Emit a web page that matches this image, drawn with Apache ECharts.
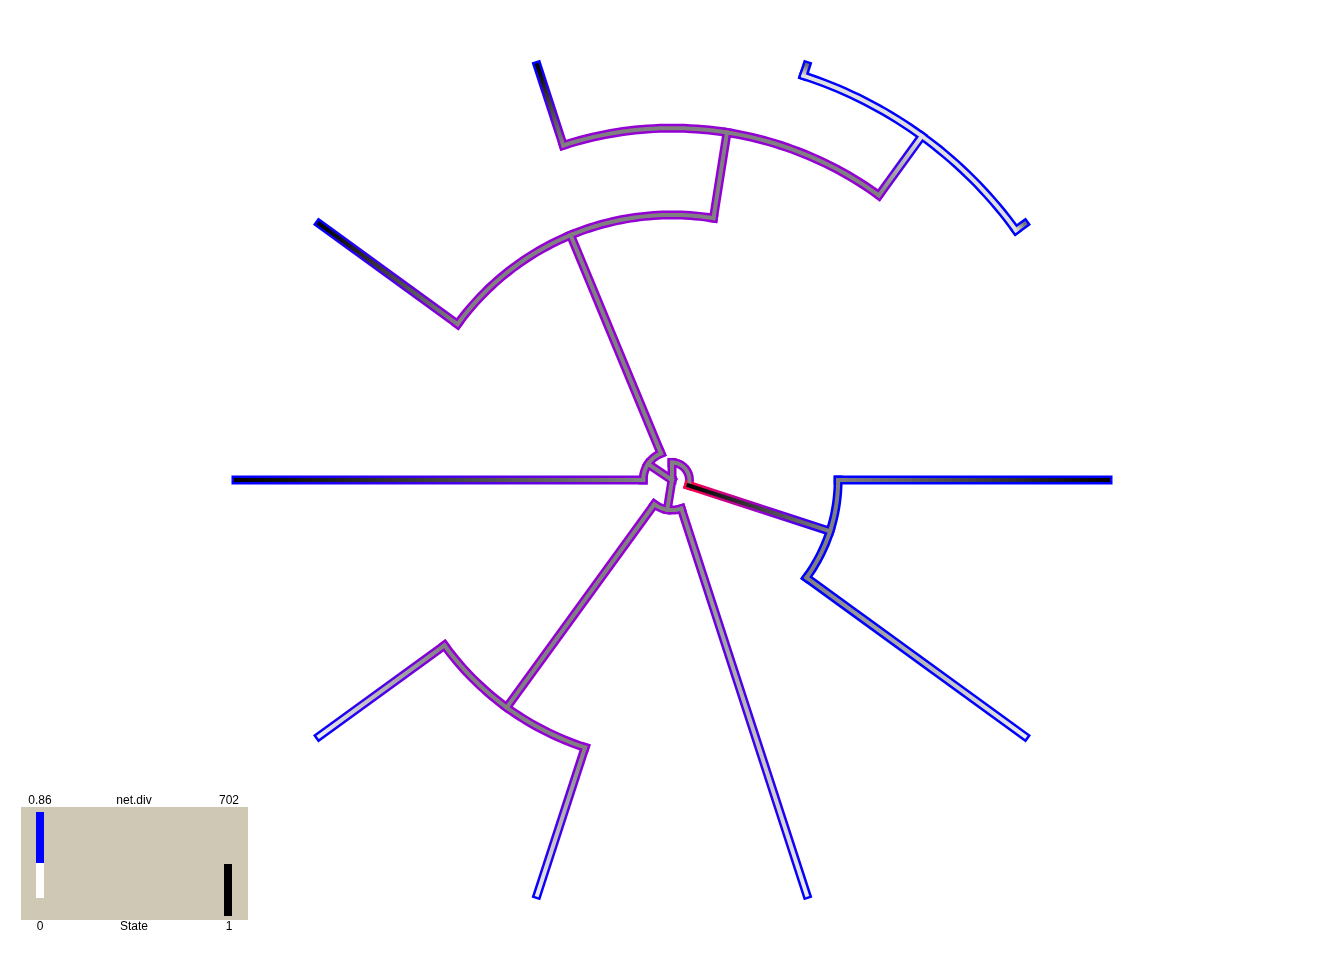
<!DOCTYPE html>
<html><head><meta charset="utf-8">
<script src="https://cdn.jsdelivr.net/npm/echarts@6/dist/echarts.min.js"></script>
<style>html,body{margin:0;padding:0;background:#fff}#c{width:1344px;height:960px}</style>
</head><body><div id="c"></div>
<script>
// ---- tree data (fan layout) ----
// node index: 0 root,1 H,2 A,3 t0,4 t36,5 F,6 t72,7 G,8 t108,9 t144,10 E,11 t180,12 D,13 t216,14 C,15 t252,16 B,17 t288,18 t324
const nodeNames  = ['root','H','A','t0','t36','F','t72','G','t108','t144','E','t180','D','t216','C','t252','B','t288','t324'];
const nodeParent = [-1, 0, 1, 2, 2, 0, 5, 5, 7, 7, 0, 10, 10, 12, 12, 14, 14, 16, 16];
const nodeDepth  = [0, 0.04, 0.381, 1, 1, 0.069, 1, 0.645, 1, 1, 0.066, 1, 0.608, 1, 0.807, 1, 0.975, 1, 1];
const nodeAngle  = [0, 270, 18, 0, 36, 99, 72, 126, 108, 144, 213.75, 180, 247.5, 216, 279, 252, 306, 288, 324];
// arcs joining children of internal nodes (degrees)
const arcFrom = [null, 270, 0, null, null, 72, null, 108, null, null, 180, null, 216, null, 252, null, 288, null, null];
const arcTo   = [null, 378, 36, null, null, 126, null, 144, null, null, 247.5, null, 279, null, 306, null, 324, null, null];
// State probability along each branch (start at parent, end at node)
const stateStart = [null, .5, 1, .5, .5, .5, .5, .5, .5, .5, .5, .5, .5, .5, .5, .5, .5, .12, .12];
const stateEnd   = [null, .5, .5, 1, .08, .5, .08, .5, .08, .08, .5, 1, .5, 1, .5, 1, .12, .55, .55];
// net.div (scaled 0..1) along each branch
const divStart   = [null, .5, 1, 0, 0, .5, .5, .5, .5, .5, .5, .45, .5, .5, .5, .5, .5, 0, 0];
const divEnd     = [null, .5, .05, 0, 0, .5, 0, .5, 0, 0, .5, 0, .5, 0, .5, 0, 0, 0, 0];
// values on the arcs of internal nodes
const arcState = [null, .5, .5, null, null, .5, null, .5, null, null, .5, null, .5, null, .5, null, .12, null, null];
const arcDiv   = [null, .5, 0, null, null, .5, null, .5, null, null, .5, null, .5, null, .5, null, 0, null, null];
// legend
const legendTopLabels = ['0.86', 'net.div', '702'];
const legendBottomLabels = ['0', 'State', '1'];

function hex(c){return '#'+c.map(v=>Math.round(Math.max(0,Math.min(255,v))).toString(16).padStart(2,'0')).join('');}
function greyOf(s){const v=255*(1-s);return hex([v,v,v]);}
const divStops=[[0,[0,0,255]],[0.5,[148,0,211]],[1,[255,0,64]]];
function divOf(t){
  for(let i=0;i<divStops.length-1;i++){
    const [a,ca]=divStops[i],[b,cb]=divStops[i+1];
    if(t<=b){const k=(t-a)/(b-a);return hex(ca.map((v,j)=>v+(cb[j]-v)*k));}
  }
  return hex(divStops[divStops.length-1][1]);
}

const items=[];
for(let i=1;i<nodeNames.length;i++){ if(arcFrom[i]!==null) items.push([0,0,1,i]); }
for(let i=1;i<nodeNames.length;i++){ items.push([0,0,0,i]); }

function pt(api,r,a){a=((a%360)+360)%360;return api.coord([r,a]);}

function makeRender(layer){
  return function(params, api){
    const kind=api.value(2), i=api.value(3);
    const w = layer===0 ? 9 : 4;
    if(kind===1){
      const pts=[];
      const a0=arcFrom[i],a1=arcTo[i];
      const n=Math.max(2,Math.ceil(Math.abs(a1-a0)));
      for(let k=0;k<=n;k++) pts.push(pt(api,nodeDepth[i],a0+(a1-a0)*k/n));
      return {type:'polyline',shape:{points:pts},style:{fill:null,stroke: layer===0?divOf(arcDiv[i]):greyOf(arcState[i]),lineWidth:w,lineCap:'square',lineJoin:'round'}};
    }
    const p=nodeParent[i];
    const p0=pt(api,nodeDepth[p],nodeAngle[i]), p1=pt(api,nodeDepth[i],nodeAngle[i]);
    const stops=[];
    for(let k=0;k<=6;k++){
      const f=k/6;
      const c = layer===0 ? divOf(divStart[i]+(divEnd[i]-divStart[i])*f)
                          : greyOf(stateStart[i]+(stateEnd[i]-stateStart[i])*f);
      stops.push({offset:f,color:c});
    }
    const grad=new echarts.graphic.LinearGradient(p0[0],p0[1],p1[0],p1[1],stops,true);
    return {type:'line',shape:{x1:p0[0],y1:p0[1],x2:p1[0],y2:p1[1]},style:{stroke:grad,lineWidth:w,lineCap:'square'}};
  };
}

const chart=echarts.init(document.getElementById('c'),null,{renderer:'canvas'});
const txt={fontFamily:'Liberation Sans, Arial, sans-serif',fontSize:12,fill:'#000'};
const lx=[40,134,230];
chart.setOption({
  animation:false,
  backgroundColor:'#ffffff',
  polar:{center:[672,480],radius:436},
  radiusAxis:{type:'value',min:0,max:1,axisLine:{show:false},axisTick:{show:false},axisLabel:{show:false},splitLine:{show:false}},
  angleAxis:{type:'value',min:0,max:360,startAngle:0,clockwise:true,axisLine:{show:false},axisTick:{show:false},axisLabel:{show:false},splitLine:{show:false}},
  series:[
    {type:'custom',coordinateSystem:'polar',data:items,renderItem:makeRender(0),z:1,silent:true},
    {type:'custom',coordinateSystem:'polar',data:items,renderItem:makeRender(1),z:2,silent:true}
  ],
  graphic:[
    {type:'rect',shape:{x:21,y:807,width:227,height:113},style:{fill:'#cec8b4'}},
    {type:'rect',shape:{x:36,y:863,width:8,height:35},style:{fill:'#ffffff'}},
    {type:'rect',shape:{x:36,y:812,width:8,height:51},style:{fill:'#0000ff'}},
    {type:'rect',shape:{x:224,y:864,width:8,height:52},style:{fill:'#000000'}},
    ...legendTopLabels.map((t,k)=>({type:'text',x:lx[k]-(k===2?1:0),y:801,style:Object.assign({text:t,textAlign:'center',textVerticalAlign:'middle'},txt)})),
    ...legendBottomLabels.map((t,k)=>({type:'text',x:lx[k]-(k===2?1:0),y:927,style:Object.assign({text:t,textAlign:'center',textVerticalAlign:'middle'},txt)}))
  ]
});
</script></body></html>
